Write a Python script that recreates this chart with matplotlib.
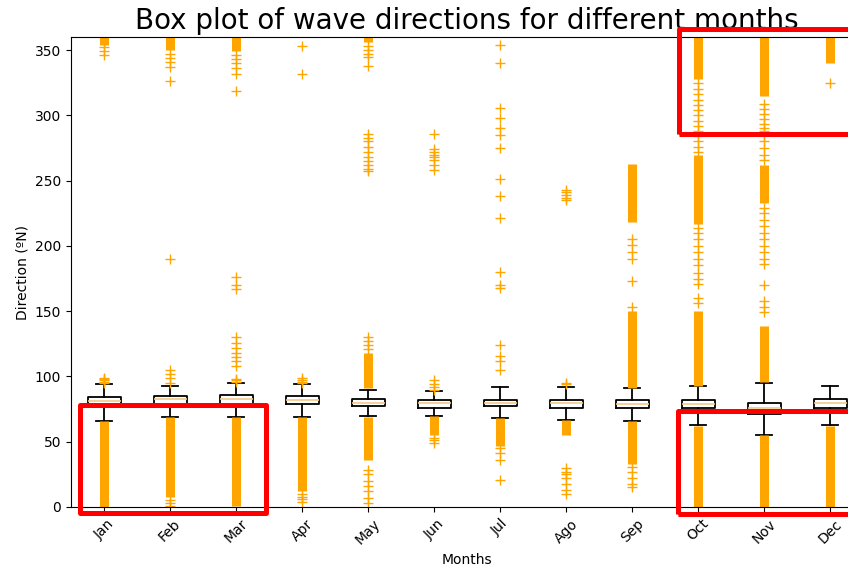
import matplotlib
matplotlib.use('Agg')
import matplotlib.pyplot as plt
import matplotlib.patches as mpatches

# ── Data ───────────────────────────────────────────────────────────────────
months = ['Jan', 'Feb', 'Mar', 'Apr', 'May', 'Jun',
          'Jul', 'Ago', 'Sep', 'Oct', 'Nov', 'Dec']

med    = [81, 83, 83, 82, 80, 80, 80, 80, 79, 79, 76, 80]
q1     = [77, 79, 79, 79, 77, 76, 77, 76, 76, 76, 71, 76]
q3     = [84, 85, 86, 85, 83, 82, 82, 82, 82, 82, 80, 83]
whislo = [66, 69, 69, 69, 70, 70, 68, 67, 66, 63, 55, 63]
whishi = [94, 93, 95, 94, 90, 89, 92, 92, 91, 93, 95, 93]

# individual outliers per month
fliers = [
    [95, 96, 97, 98, 99, 346, 349, 352],
    [1, 3, 5, 95, 99, 102, 105, 190, 326, 337, 341, 344, 347],
    [96, 97, 98, 108, 112, 115, 118, 122, 126, 130, 167, 170, 176,
     319, 332, 336, 340, 343, 346],
    [4, 6, 8, 10, 95, 96, 97, 99, 332, 353],
    [3, 7, 12, 16, 20, 25, 28, 121, 124, 127, 130, 257, 259, 262, 265,
     268, 272, 276, 280, 283, 286, 338, 345, 347, 350, 353],
    [49, 51, 53, 90, 92, 94, 97, 258, 262, 266, 268, 270, 272, 274, 286],
    [21, 36, 41, 45, 105, 112, 116, 124, 168, 170, 180, 221, 238, 251,
     275, 285, 290, 298, 306, 340, 354],
    [10, 13, 18, 22, 25, 27, 30, 94, 95, 235, 237, 239, 241, 243],
    [15, 18, 22, 27, 31, 153, 173, 190, 195, 201, 205],
    [156, 160, 171, 175, 179, 185, 190, 195, 200, 205, 210, 214,
     272, 276, 280, 284, 288, 292, 296, 300, 304, 308, 312, 316, 320, 325],
    [149, 153, 158, 170, 186, 190, 195, 200, 205, 210, 215, 220, 225, 229,
     266, 270, 275, 280, 285, 288, 290, 293, 297, 301, 305, 309],
    [325],
]

# dense runs of outliers (drawn as a solid stack)
bands = [
    [(0, 66), (354, 360)],
    [(8, 69), (350, 360)],
    [(1, 69), (349, 360)],
    [(12, 69)],
    [(36, 69), (91, 118), (356, 360)],
    [(55, 70)],
    [(47, 68)],
    [(55, 67)],
    [(33, 66), (91, 150), (218, 263)],
    [(0, 62), (93, 150), (217, 270), (328, 360)],
    [(0, 55), (96, 139), (233, 262), (315, 360)],
    [(0, 62), (340, 360)],
]

C_ORANGE = '#FFA500'

fig = plt.figure(figsize=(8.48, 5.69), dpi=100)
fig.patch.set_facecolor('white')
ax = fig.add_axes([71 / 848, 1 - 507 / 569, 792 / 848, 470 / 569])

stats = []
for i, m in enumerate(months):
    stats.append(dict(label=m, med=med[i], q1=q1[i], q3=q3[i],
                      whislo=whislo[i], whishi=whishi[i], fliers=fliers[i]))

ax.bxp(stats, showfliers=True,
       boxprops=dict(color='black', linewidth=1.3),
       whiskerprops=dict(color='black', linewidth=1.3),
       capprops=dict(color='black', linewidth=1.3),
       medianprops=dict(color='#F2C98A', linewidth=1.2),
       flierprops=dict(marker='+', markeredgecolor=C_ORANGE,
                       markersize=7, markeredgewidth=1.0, linestyle='none'))

for i, blist in enumerate(bands):
    for lo, hi in blist:
        ax.vlines(i + 1, lo, hi, color=C_ORANGE, linewidth=6.5, zorder=2)

ax.set_xlim(0.5, 12.5)
ax.set_ylim(0, 360)
ax.set_yticks(range(0, 351, 50))
ax.set_xticklabels(months, rotation=45)
ax.set_xlabel('Months', fontsize=10)
ax.set_ylabel('Direction (ºN)', fontsize=10)
ax.set_title('Box plot of wave directions for different months', fontsize=20)

# ── Red highlight frames (figure pixel coords) ─────────────────────────────
W, H = 848, 569
for x0, y0, x1, y1 in [(79.5, 404.5, 265.5, 513),
                       (678, 410.5, 870, 514),
                       (678.5, 29.5, 870, 133.5)]:
    fig.add_artist(mpatches.Rectangle((x0 / W, 1 - y1 / H),
                                      (x1 - x0) / W, (y1 - y0) / H,
                                      transform=fig.transFigure,
                                      fill=False, edgecolor='red',
                                      linewidth=3.6, joinstyle='round',
                                      clip_on=False, zorder=10))

fig.savefig('out.png', dpi=100)
